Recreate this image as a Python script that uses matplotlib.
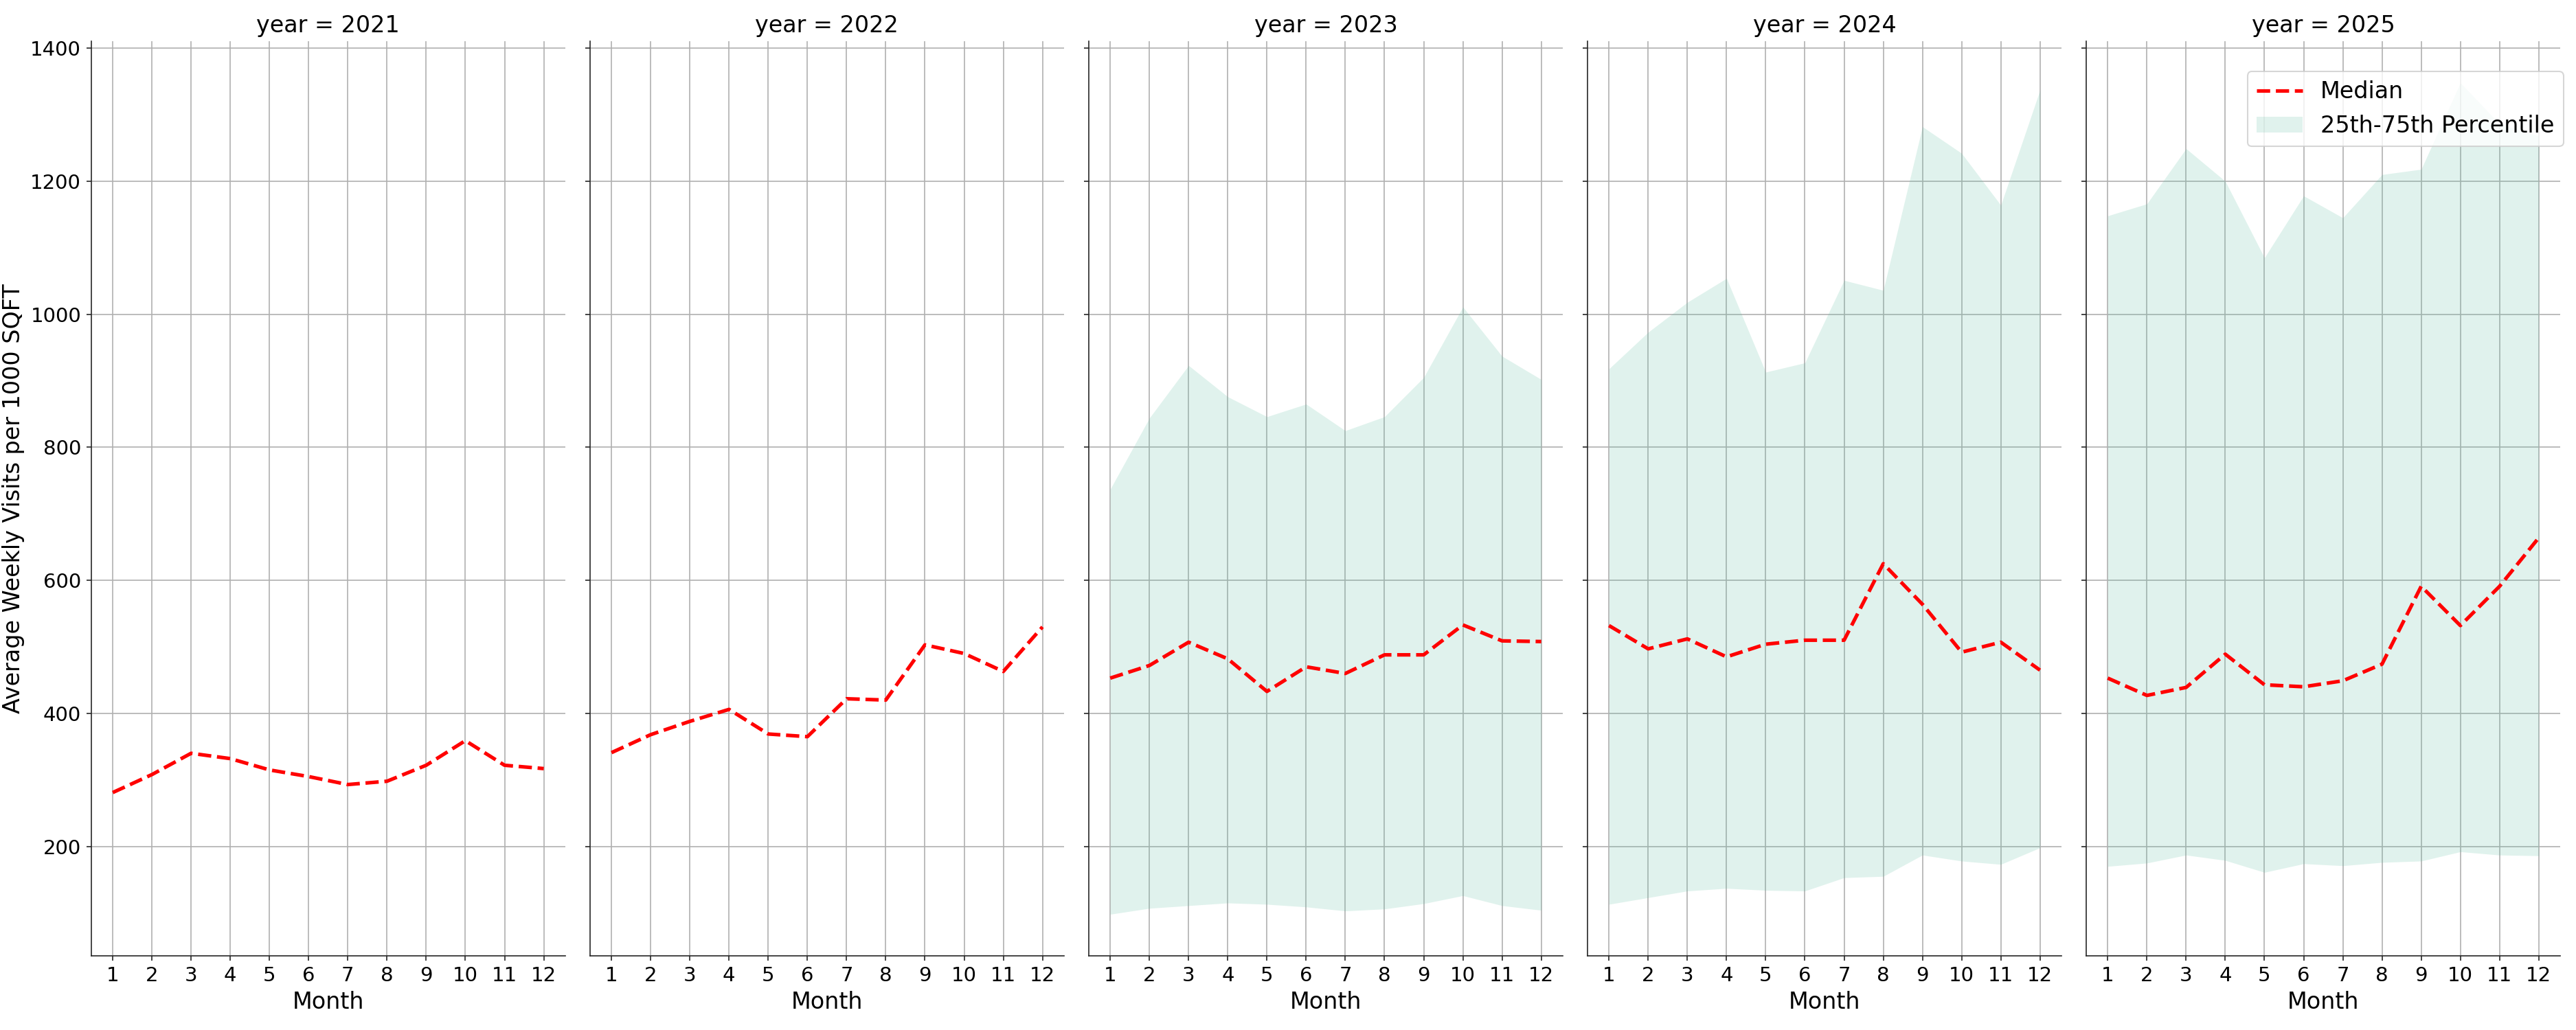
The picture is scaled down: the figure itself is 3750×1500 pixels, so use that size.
import numpy as np
import matplotlib
matplotlib.use("Agg")
import matplotlib.pyplot as plt

# months on the x axis
months = list(range(1, 13))
years = [2021, 2022, 2023, 2024, 2025]

# median weekly visits per 1000 sqft, one list per year
median_2021 = [281, 308, 340, 332, 315, 305, 293, 298, 322, 359, 322, 317]
median_2022 = [341, 368, 388, 406, 369, 365, 422, 420, 503, 490, 463, 530]
median_2023 = [453, 472, 507, 482, 433, 470, 460, 488, 488, 533, 509, 508]
median_2024 = [532, 497, 512, 485, 504, 510, 510, 625, 564, 492, 507, 465]
median_2025 = [453, 427, 439, 489, 443, 440, 449, 474, 591, 532, 591, 664]

# 25th and 75th percentile (no band for 2021 and 2022)
p25_2023 = [98, 107, 111, 115, 113, 109, 103, 106, 114, 126, 111, 104]
p75_2023 = [737, 844, 923, 876, 846, 865, 825, 846, 905, 1011, 937, 902]
p25_2024 = [113, 123, 133, 137, 134, 133, 153, 155, 187, 178, 173, 198]
p75_2024 = [918, 973, 1018, 1054, 913, 927, 1051, 1036, 1282, 1242, 1164, 1337]
p25_2025 = [170, 175, 187, 179, 161, 174, 171, 176, 178, 192, 187, 186]
p75_2025 = [1148, 1166, 1249, 1200, 1085, 1178, 1145, 1210, 1218, 1348, 1286, 1268]

medians = [median_2021, median_2022, median_2023, median_2024, median_2025]
p25s = [None, None, p25_2023, p25_2024, p25_2025]
p75s = [None, None, p75_2023, p75_2024, p75_2025]

fig, axes = plt.subplots(1, 5, figsize=(25, 10), dpi=150, sharey=True)
fig.subplots_adjust(left=0.0354, right=0.9939, top=0.96, bottom=0.072, wspace=0.052)

for ax, year, med, lo, hi in zip(axes, years, medians, p25s, p75s):
    ax.set_axisbelow(True)
    ax.grid(True, color="#b0b0b0", linewidth=0.8)
    # median line
    ax.plot(months, med, color="red", linestyle="--", linewidth=2.5, label="Median")
    # percentile band
    if lo is not None:
        ax.fill_between(months, lo, hi, color="#66c2a5", alpha=0.2, linewidth=0,
                        label="25th-75th Percentile")
    ax.set_title(f"year = {year}", fontsize=16)
    ax.set_xlabel("Month", fontsize=16)
    ax.set_xticks(months)
    ax.tick_params(labelsize=14, color="#262626")
    for side in ["top", "right"]:
        ax.spines[side].set_visible(False)
    for side in ["left", "bottom"]:
        ax.spines[side].set_color("#262626")

axes[0].set_ylabel("Average Weekly Visits per 1000 SQFT", fontsize=16)
axes[-1].legend(loc="upper right", bbox_to_anchor=(1.007, 0.967), borderaxespad=0,
                fontsize=16)

plt.savefig("out.png", dpi=150)
